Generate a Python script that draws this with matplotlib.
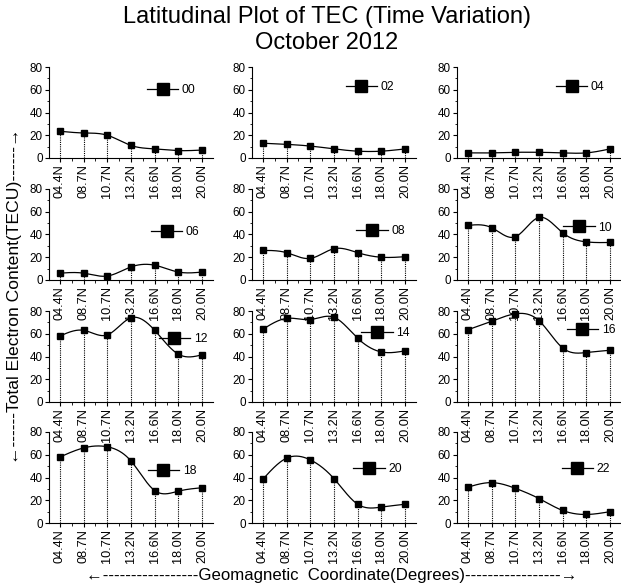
import numpy as np
import matplotlib
matplotlib.use('Agg')
import matplotlib.pyplot as plt
from matplotlib.ticker import MultipleLocator, FixedLocator

plt.rcParams['font.family'] = ['Liberation Sans', 'DejaVu Sans']

# data
latitudes = ['04.4N', '08.7N', '10.7N', '13.2N', '16.6N', '18.0N', '20.0N']
hours = ['00', '02', '04', '06', '08', '10', '12', '14', '16', '18', '20', '22']

tec_00 = [23.5, 22, 20, 11, 8, 6.5, 7]
tec_02 = [13, 12, 10.5, 8, 6, 6, 8]
tec_04 = [4.5, 4.5, 5, 5, 4.5, 4.5, 8]
tec_06 = [6, 6, 3.5, 11.5, 13, 7, 7]
tec_08 = [26, 24, 19, 27.5, 24, 20, 20.5]
tec_10 = [48, 46, 38, 55, 41.5, 33.5, 33]
tec_12 = [58, 63, 59, 74, 63, 42, 41.5]
tec_14 = [64, 73.5, 72.5, 74.5, 56, 44, 45]
tec_16 = [63.5, 71, 77.5, 71.5, 47.5, 43.5, 45.5]
tec_18 = [58, 66, 67, 54.5, 28.5, 28, 31]
tec_20 = [38.5, 57, 55.5, 39, 16.5, 14, 16.5]
tec_22 = [31.5, 35.5, 30.5, 21.5, 11, 7.5, 10]

all_tec = [tec_00, tec_02, tec_04, tec_06, tec_08, tec_10,
           tec_12, tec_14, tec_16, tec_18, tec_20, tec_22]

# where each little legend sits (data units of its panel)
legend_pos = [(4.3, 59.4), (4.12, 62.4), (4.34, 62.4),
              (4.47, 41.9), (4.57, 43.3), (4.65, 46),
              (4.8, 55), (4.79, 60.6), (4.8, 63.2),
              (4.33, 45.4), (4.45, 47.4), (4.58, 47.4)]


def natural_spline(x, y, n=300):
    # natural cubic spline, used only to draw the smooth connecting line
    x = np.asarray(x, float)
    y = np.asarray(y, float)
    k = len(x)
    h = np.diff(x)
    A = np.zeros((k, k))
    b = np.zeros(k)
    A[0, 0] = A[-1, -1] = 1
    for i in range(1, k - 1):
        A[i, i - 1] = h[i - 1]
        A[i, i] = 2 * (h[i - 1] + h[i])
        A[i, i + 1] = h[i]
        b[i] = 3 * ((y[i + 1] - y[i]) / h[i] - (y[i] - y[i - 1]) / h[i - 1])
    c = np.linalg.solve(A, b)
    xs = np.linspace(x[0], x[-1], n)
    idx = np.clip(np.searchsorted(x, xs) - 1, 0, k - 2)
    dx = xs - x[idx]
    bb = (y[idx + 1] - y[idx]) / h[idx] - h[idx] * (2 * c[idx] + c[idx + 1]) / 3
    dd = (c[idx + 1] - c[idx]) / (3 * h[idx])
    ys = y[idx] + bb * dx + c[idx] * dx ** 2 + dd * dx ** 3
    return xs, ys


W, H = 621, 587
fig = plt.figure(figsize=(W / 100, H / 100), dpi=100)

col_left = [49, 252, 457]
row_bottom = [158, 280, 402, 523]
ax_w, ax_h = 164, 91

xpos = np.arange(len(latitudes))

for i, (hour, tec) in enumerate(zip(hours, all_tec)):
    r, c = divmod(i, 3)
    ax = fig.add_axes([col_left[c] / W, 1 - row_bottom[r] / H, ax_w / W, ax_h / H])
    ax.patch.set_alpha(0)

    ax.vlines(xpos, 0, tec, colors='black', linestyles=(0, (1, 1)), linewidth=0.8)
    xs, ys = natural_spline(xpos, tec)
    ax.plot(xs, ys, color='black', linewidth=0.9)
    ax.plot(xpos, tec, linestyle='none', marker='s', color='black',
            markersize=4.5, clip_on=False)

    # legend key
    lx, ly = legend_pos[i]
    ax.plot([], [], color='black', linewidth=0.9, marker='s', markersize=9, label=hour)
    ax.legend(loc='center left', bbox_to_anchor=(lx - 0.63, ly),
              bbox_transform=ax.transData, frameon=False, borderpad=0,
              borderaxespad=0, handlelength=2.6, handletextpad=0.3,
              fontsize=8.7, markerscale=1)

    ax.set_xlim(-0.46, 6.46)
    ax.set_ylim(0, 80)
    ax.spines['top'].set_visible(False)
    ax.spines['right'].set_visible(False)
    ax.spines['left'].set_linewidth(0.8)
    ax.spines['bottom'].set_linewidth(0.8)

    ax.set_xticks(xpos)
    ax.set_xticklabels(latitudes, rotation=90, fontsize=9.2)
    ax.xaxis.set_minor_locator(FixedLocator(xpos[:-1] + 0.5))
    ax.yaxis.set_major_locator(MultipleLocator(20))
    ax.yaxis.set_minor_locator(MultipleLocator(10))
    ax.tick_params(axis='both', which='major', direction='out', length=3,
                   width=0.8, pad=1.5)
    ax.tick_params(axis='y', labelsize=8.4)
    ax.tick_params(axis='both', which='minor', direction='out', length=1.8, width=0.6)

fig.text(327 / W, 1 - 6.5 / H,
         'Latitudinal Plot of TEC (Time Variation)\nOctober 2012',
         ha='center', va='top', fontsize=17, linespacing=1.2)

fig.text(15 / W, 1 - 296 / H,
         '\u2190------Total Electron Content(TECU)------\u2192',
         rotation=90, ha='center', va='center', fontsize=12.6)

fig.text(332 / W, 1 - 580 / H,
         '\u2190-----------------Geomagnetic  Coordinate(Degrees)-----------------\u2192',
         ha='center', va='baseline', fontsize=12.1)

fig.savefig('out.png', dpi=100)
